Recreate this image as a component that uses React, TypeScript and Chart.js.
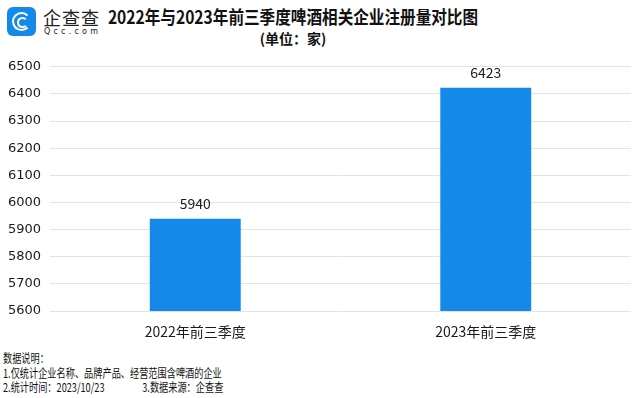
import React, { useEffect, useRef } from "react";
import { Chart, registerables } from "chart.js";

Chart.register(...registerables);

const categories = ["2022年前三季度", "2023年前三季度"];
const values = [5940, 6423];
const yMin = 5600;
const yMax = 6500;
const yStep = 100;

const title = "2022年与2023年前三季度啤酒相关企业注册量对比图";
const subtitle = "(单位：家)";
const notes = ["数据说明：", "1.仅统计企业名称、品牌产品、经营范围含啤酒的企业"];
const note2a = "2.统计时间：2023/10/23";
const note2b = "3.数据来源：企查查";

const CJK = '"Noto Sans CJK SC", "Noto Sans", sans-serif';

const valueLabels = {
  id: "valueLabels",
  afterDatasetsDraw(chart: any) {
    const ctx = chart.ctx;
    const meta = chart.getDatasetMeta(0);
    ctx.save();
    ctx.font = `14px ${CJK}`;
    ctx.fillStyle = "#1a1a1a";
    ctx.textAlign = "center";
    ctx.textBaseline = "alphabetic";
    meta.data.forEach((bar: any, i: number) => {
      ctx.fillText(String(chart.data.datasets[0].data[i]), bar.x, bar.y - 10);
    });
    ctx.restore();
  },
};

function BarChart() {
  const ref = useRef<HTMLCanvasElement>(null);
  useEffect(() => {
    const chart = new Chart(ref.current!, {
      type: "bar",
      data: {
        labels: categories,
        datasets: [
          {
            data: values,
            backgroundColor: "#1589E9",
            borderWidth: 0,
            categoryPercentage: 1,
            barPercentage: 0.313,
          },
        ],
      },
      options: {
        responsive: false,
        animation: false,
        maintainAspectRatio: false,
        layout: { padding: { top: 10, right: 9, left: 0, bottom: 0 } },
        plugins: { legend: { display: false }, tooltip: { enabled: false } },
        scales: {
          x: {
            grid: { display: false },
            border: { display: false },
            ticks: {
              color: "#1a1a1a",
              font: { family: CJK, size: 14 },
              padding: 4,
            },
            afterFit(scale: any) {
              scale.height = 29;
            },
          },
          y: {
            min: yMin,
            max: yMax,
            grid: { color: "#e3e3e3", lineWidth: 1, drawTicks: false },
            border: { display: false },
            ticks: {
              stepSize: yStep,
              color: "#1a1a1a",
              font: { family: '"DejaVu Sans", sans-serif', size: 13 },
              padding: 9,
              callback: (v: any) => String(v),
            },
            afterFit(scale: any) {
              scale.width = 50;
            },
          },
        },
      },
      plugins: [valueLabels],
    });
    return () => chart.destroy();
  }, []);
  return (
    <canvas
      ref={ref}
      width={640}
      height={290}
      style={{ position: "absolute", left: 0, top: 50, width: 640, height: 290 }}
    />
  );
}

export default function App() {
  return (
    <div
      style={{
        position: "fixed",
        left: 0,
        top: 0,
        width: 640,
        height: 398,
        background: "#fff",
        overflow: "hidden",
        fontFamily: CJK,
      }}
    >
      {/* logo */}
      <div
        style={{
          position: "absolute",
          left: 7,
          top: 7,
          width: 29,
          height: 29,
          borderRadius: 6,
          background: "#1589E9",
        }}
      >
        <div
          style={{
            position: "absolute",
            left: 5,
            top: 5,
            width: 15,
            height: 15,
            borderRadius: "50%",
            border: "2.5px solid #fff",
            borderRightColor: "transparent",
          }}
        />
        <div
          style={{
            position: "absolute",
            left: 10,
            top: 10,
            width: 7,
            height: 7,
            borderRadius: "50%",
            border: "2px solid #fff",
            borderRightColor: "transparent",
          }}
        />
      </div>
      <div
        style={{
          position: "absolute",
          left: 43,
          top: 6,
          fontSize: 18,
          lineHeight: "22px",
          color: "#222",
          letterSpacing: 1,
        }}
      >
        企查查
      </div>
      <div
        style={{
          position: "absolute",
          left: 44,
          top: 27,
          fontSize: 8,
          lineHeight: "9px",
          color: "#222",
          letterSpacing: 3.2,
          fontFamily: '"DejaVu Sans", sans-serif',
        }}
      >
        Qcc.com
      </div>
      {/* title */}
      <div
        style={{
          position: "absolute",
          left: 43,
          width: 500,
          top: 4,
          textAlign: "center",
          fontSize: 18,
          fontWeight: 700,
          lineHeight: "24px",
          color: "#111",
          whiteSpace: "nowrap",
          transform: "scaleX(0.867)",
          transformOrigin: "250px 0",
        }}
      >
        {title}
      </div>
      <div
        style={{
          position: "absolute",
          left: 193,
          width: 200,
          top: 29,
          textAlign: "center",
          fontSize: 14,
          fontWeight: 700,
          lineHeight: "18px",
          color: "#111",
        }}
      >
        {subtitle}
      </div>
      <BarChart />
      {/* notes */}
      <div
        style={{
          position: "absolute",
          left: 3,
          top: 351,
          fontSize: 12,
          lineHeight: "14.5px",
          color: "#111",
          whiteSpace: "nowrap",
          transform: "scaleX(0.765)",
          transformOrigin: "0 0",
        }}
      >
        <div>{notes[0]}</div>
        <div>{notes[1]}</div>
        <div style={{ position: "relative" }}>
          <span>{note2a}</span>
          <span style={{ position: "absolute", left: 182 }}>{note2b}</span>
        </div>
      </div>
    </div>
  );
}
